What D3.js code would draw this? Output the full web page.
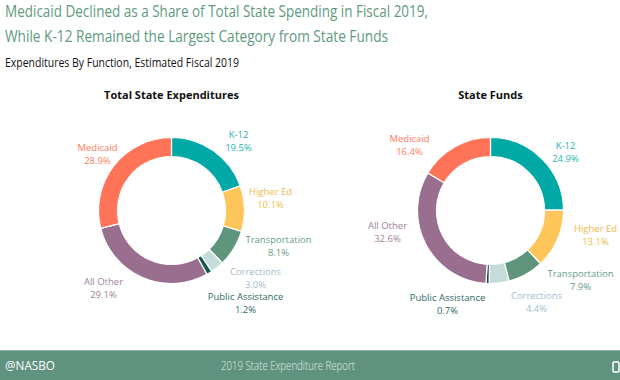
<!DOCTYPE html>
<html><head><meta charset="utf-8">
<script src="https://cdn.jsdelivr.net/npm/d3@7/dist/d3.min.js"></script>
<style>body{margin:0;background:#fff}svg{display:block}</style>
</head><body><svg id="c" width="620" height="380"></svg>
<script>
const categories = ["K-12","Higher Ed","Transportation","Corrections","Public Assistance","All Other","Medicaid"];
const totalStateValues = [19.5,10.1,8.1,3.0,1.2,29.1,28.9];
const stateFundsValues = [24.9,13.1,7.9,4.4,0.7,32.6,16.4];
const sliceColors = ["#00A9A5","#FEC65A","#5F947D","#C5DCDA","#14584F","#9A6E8E","#FF7459"];
const labelColors = ["#27B2AF","#EDBB4E","#6B9B87","#A5BCCB","#2F6A62","#A28099","#FF7C62"];
const chartTitles = ["Total State Expenditures","State Funds"];

const svg = d3.select("#c");
const font = "'Open Sans', sans-serif";

// Header
svg.append("text").attr("x",5).attr("y",17).attr("font-family",font).attr("font-size",16.5)
  .attr("fill","#5E9A80").attr("textLength",423).attr("lengthAdjust","spacingAndGlyphs")
  .text("Medicaid Declined as a Share of Total State Spending in Fiscal 2019,");
svg.append("text").attr("x",5).attr("y",42).attr("font-family",font).attr("font-size",16.5)
  .attr("fill","#5E9A80").attr("textLength",383).attr("lengthAdjust","spacingAndGlyphs")
  .text("While K-12 Remained the Largest Category from State Funds");
svg.append("text").attr("x",5).attr("y",67).attr("font-family",font).attr("font-size",12)
  .attr("fill","#111").attr("textLength",234).attr("lengthAdjust","spacingAndGlyphs")
  .text("Expenditures By Function, Estimated Fiscal 2019");

// layout for the two donuts
const donuts = [
  {cx:171.5, cy:210.5, values: totalStateValues, title: chartTitles[0],
   labelPos:[[67,-70],[99,-13],[107,35],[84,67],[74,92],[-68,77],[-74,-57]]},
  {cx:490.5, cy:210.5, values: stateFundsValues, title: chartTitles[1],
   labelPos:[[75,-59],[105,24],[90,69],[46,91],[-43,93],[-103,21],[-81,-66]]}
];
const outerR = 73, innerR = 54;
const pie = d3.pie().sort(null).value(d=>d);
const arc = d3.arc().innerRadius(innerR).outerRadius(outerR);

donuts.forEach(dn=>{
  const g = svg.append("g").attr("transform",`translate(${dn.cx},${dn.cy})`);
  g.selectAll("path").data(pie(dn.values)).join("path")
    .attr("d",arc).attr("fill",(d,i)=>sliceColors[i])
    .attr("stroke","#fff").attr("stroke-width",1.2);
  svg.append("text").attr("x",dn.cx).attr("y",99).attr("text-anchor","middle")
    .attr("font-family",font).attr("font-size",11).attr("font-weight","bold").attr("fill","#111")
    .text(dn.title);
  dn.values.forEach((v,i)=>{
    const t = g.append("text").attr("text-anchor","middle").attr("font-family",font)
      .attr("font-size",9.5).attr("fill",labelColors[i])
      .attr("transform",`translate(${dn.labelPos[i][0]},${dn.labelPos[i][1]})`);
    t.append("tspan").attr("x",0).attr("y",-3).text(categories[i]);
    t.append("tspan").attr("x",0).attr("y",10).text(d3.format(".1f")(v)+"%");
  });
});

// Footer
svg.append("rect").attr("x",0).attr("y",350).attr("width",620).attr("height",30).attr("fill","#5F937F");
svg.append("rect").attr("x",0).attr("y",350).attr("width",620).attr("height",1).attr("fill","#8DB3A4");
svg.append("text").attr("x",5).attr("y",370).attr("font-family",font).attr("font-size",13)
  .attr("fill","#fff").attr("textLength",50).attr("lengthAdjust","spacingAndGlyphs").text("@NASBO");
svg.append("text").attr("x",221).attr("y",370).attr("font-family",font)
  .attr("font-size",12.5).attr("fill","#E3ECE8").attr("font-weight",300)
  .attr("textLength",134).attr("lengthAdjust","spacingAndGlyphs").text("2019 State Expenditure Report");
svg.append("rect").attr("x",613).attr("y",362).attr("width",6).attr("height",10).attr("fill","none")
  .attr("stroke","#fff").attr("stroke-width",1.5).attr("rx",1);
</script></body></html>
